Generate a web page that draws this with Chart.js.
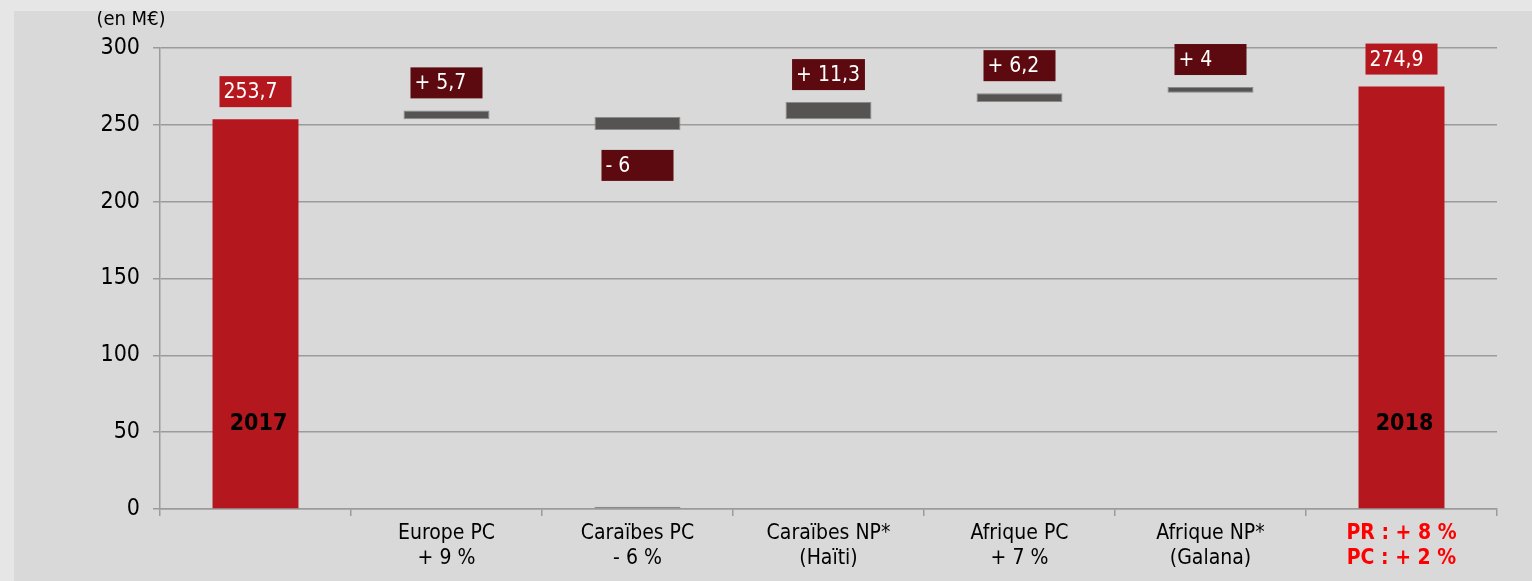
<!DOCTYPE html>
<html>
<head>
<meta charset="utf-8">
<script src="https://cdn.jsdelivr.net/npm/chart.js@4"></script>
<style>
  html, body { margin: 0; padding: 0; background: #e6e6e6; }
  #panel { position: absolute; left: 14px; top: 11px; width: 1518px; height: 570px; background: #d9d9d9; }
</style>
</head>
<body>
<div id="panel"><canvas id="chartCanvas"></canvas></div>
<script>
    /********** DONNEES **********/
    const categories = [
      ["", ""],
      ["Europe PC", "+ 9 %"],
      ["Caraïbes PC", "- 6 %"],
      ["Caraïbes NP*", "(Haïti)"],
      ["Afrique PC", "+ 7 %"],
      ["Afrique NP*", "(Galana)"],
      ["PR : + 8 %", "PC : + 2 %"]
    ];
    const barLow  = [0, 253.7, 246.7, 253.7, 264.8, 270.8, 0];
    const barHigh = [253.7, 259.4, 255.1, 264.8, 270.6, 274.6, 274.9];
    // petit trait au niveau zéro sous "Caraïbes PC"
    const baseTrace = [null, null, 1.4, null, null, null, null];
    const valueLabels = ["253,7", "+ 5,7", "- 6", "+ 11,3", "+ 6,2", "+ 4", "274,9"];
    const yearLabels = ["2017", "", "", "", "", "", "2018"];
    const yTicks = [0, 50, 100, 150, 200, 250, 300];
    const unitLabel = "(en M€)";

    const FONT = "'DejaVu Sans Condensed', 'Liberation Sans Narrow', 'DejaVu Sans', sans-serif";
    const RED = "#b5171e", DARK = "#5c0a0f", GREY = "#555452";
    const isTotal = i => i === 0 || i === categories.length - 1;

    /********** PLUGIN ETIQUETTES **********/
    const labelPlugin = {
      id: "labels",
      afterDatasetsDraw(chart) {
        const ctx = chart.ctx;
        const meta = chart.getDatasetMeta(0);
        ctx.save();
        ctx.textBaseline = "middle";
        meta.data.forEach((bar, i) => {
          const h = 31;
          ctx.font = "21px " + FONT;
          const w = Math.max(72, ctx.measureText(valueLabels[i]).width + 9);
          const top = Math.min(bar.y, bar.base), bottom = Math.max(bar.y, bar.base);
          const neg = valueLabels[i].startsWith("-");
          const bx = bar.x - w / 2;
          const by = neg ? bottom + 20 : top - 12 - h;
          ctx.fillStyle = isTotal(i) ? RED : DARK;
          ctx.fillRect(bx, by, w, h);
          ctx.textAlign = "left";
          ctx.fillStyle = "#ffffff";
          ctx.fillText(valueLabels[i], bx + 4, by + h / 2 + 1);
          if (yearLabels[i]) {
            ctx.font = "bold 23px " + FONT;
            ctx.fillStyle = "#000";
            ctx.textAlign = "center";
            ctx.fillText(yearLabels[i], bar.x + 3, bar.base - 84);
          }
        });
        ctx.font = "20px " + FONT;
        ctx.fillStyle = "#000";
        ctx.textAlign = "center";
        ctx.fillText(unitLabel, 117, 9);
        ctx.restore();
      }
    };

    /********** CHART **********/
    const ctx = document.getElementById("chartCanvas").getContext("2d");
    new Chart(ctx, {
      type: "bar",
      data: {
        labels: categories,
        datasets: [
          {
            data: barLow.map((lo, i) => [lo, barHigh[i]]),
            backgroundColor: categories.map((c, i) => isTotal(i) ? RED : GREY),
            borderColor: "#8a8a8a",
            borderWidth: categories.map((c, i) => isTotal(i) ? 0 : 1),
            borderSkipped: false,
            categoryPercentage: 1,
            barPercentage: 0.45,
            grouped: false
          },
          {
            data: baseTrace.map(v => v === null ? null : [0, v]),
            backgroundColor: GREY,
            borderColor: "#8a8a8a",
            borderWidth: 1,
            borderSkipped: false,
            categoryPercentage: 1,
            barPercentage: 0.45,
            grouped: false
          }
        ]
      },
      options: {
        responsive: true,
        maintainAspectRatio: false,
        animation: false,
        layout: { padding: { left: 0, right: 35, top: 37, bottom: 0 } },
        plugins: {
          legend: { display: false },
          tooltip: { enabled: false }
        },
        scales: {
          x: {
            grid: { offset: true, drawOnChartArea: false, drawTicks: true, tickLength: 7, color: "#9b9b9b", lineWidth: 1.5 },
            border: { color: "#9b9b9b", width: 1.5 },
            ticks: {
              padding: 5,
              autoSkip: false,
              maxRotation: 0,
              color: c => c.index === categories.length - 1 ? "#ff0000" : "#000",
              font: c => ({ family: FONT, size: 21, weight: c.index === categories.length - 1 ? "bold" : "normal", lineHeight: 1.2 })
            },
            afterFit: s => { s.height = 72; }
          },
          y: {
            min: 0,
            max: 300,
            afterBuildTicks: s => { s.ticks = yTicks.map(v => ({ value: v })); },
            grid: { color: "#9b9b9b", lineWidth: 1.5, tickLength: 7 },
            border: { color: "#9b9b9b", width: 1.5 },
            ticks: { padding: 13, color: "#000", font: { family: FONT, size: 23 } },
            afterFit: s => { s.width = 146; }
          }
        }
      },
      plugins: [labelPlugin]
    });
</script>
</body>
</html>
